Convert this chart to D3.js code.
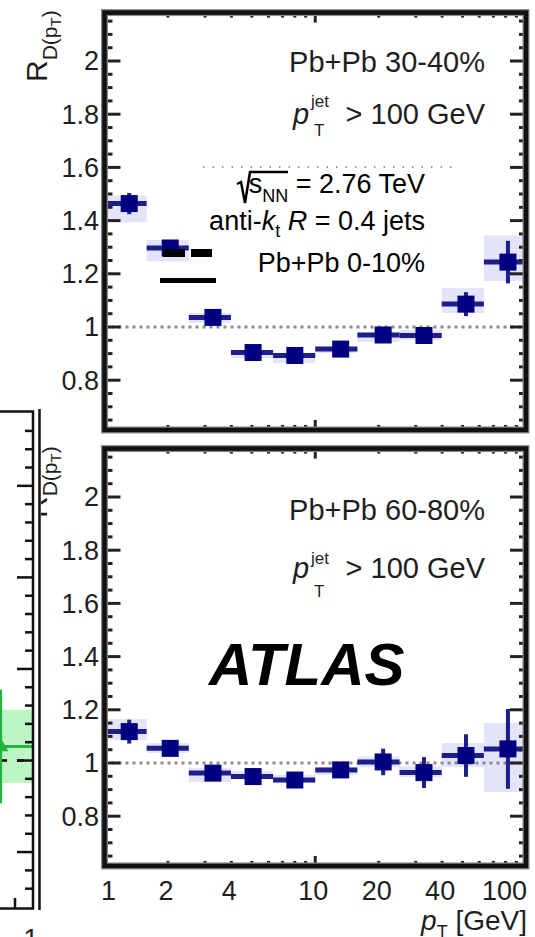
<!DOCTYPE html>
<html>
<head>
<meta charset="utf-8">
<script src="https://cdn.jsdelivr.net/npm/d3@7"></script>
<style>
  html, body { margin: 0; padding: 0; background: #fff; }
  svg { display: block; }
  text { font-family: "Liberation Sans", Arial, Helvetica, sans-serif; fill: #1e1e1e; white-space: pre; }
</style>
</head>
<body>
<div id="chart"></div>
<script>
// track pT bins [GeV] and mean pT of each bin
let binLo = [1, 1.585, 2.512, 3.981, 6.31, 10, 15.85, 25.12, 39.81, 63.1]
let binHi = [1.585, 2.512, 3.981, 6.31, 10, 15.85, 25.12, 39.81, 63.1, 100]
let ptMean = [1.31, 2.05, 3.27, 5.07, 8.0, 13.2, 21.0, 32.8, 51.9, 82.1]

// Pb+Pb 30-40%
let r3040 = [1.464, 1.297, 1.036, 0.904, 0.893, 0.917, 0.970, 0.968, 1.086, 1.244]
let stat3040 = [0.04, 0.02, 0.012, 0.01, 0.01, 0.01, 0.01, 0.01, 0.045, 0.08]
let sysUp3040 = [0.03, 0.03, 0.017, 0.01, 0.01, 0.008, 0.01, 0.021, 0.061, 0.10]
let sysDn3040 = [0.07, 0.05, 0.021, 0.021, 0.028, 0.015, 0.026, 0.017, 0.033, 0.071]

// Pb+Pb 60-80%
let r6080 = [1.118, 1.055, 0.962, 0.949, 0.936, 0.974, 1.004, 0.964, 1.028, 1.053]
let stat6080 = [0.045, 0.02, 0.02, 0.015, 0.015, 0.02, 0.05, 0.058, 0.08, 0.15]
let sysUp6080 = [0.047, 0.02, 0.019, 0.02, 0.02, 0.011, 0.02, 0.025, 0.047, 0.097]
let sysDn6080 = [0.032, 0.017, 0.033, 0.01, 0.011, 0.019, 0.02, 0.017, 0.043, 0.162]

// neighbouring (0-10%) panel, only its last point shows
let ptLeft = [85], binLoLeft = [50], binHiLeft = [130]
let rLeft = [1.077], statLeft = [0.31], sysLeft = [0.2]

// axis ticks
let yLabels = [0.8, 1, 1.2, 1.4, 1.6, 1.8, 2]
let yMinor = d3.range(13, 44).map(i => +(i * 0.05).toFixed(2))
let xMajor = [1, 10, 100]
let xMinor = [2, 3, 4, 5, 6, 7, 8, 9, 20, 30, 40, 50, 60, 70, 80, 90]
let xLabels = [1, 2, 4, 10, 20, 40, 100]
let yLeftMajor = [0.5, 1, 1.5, 2, 2.5]
let yLeftMinor = d3.range(3, 29).map(i => +(i * 0.1).toFixed(1))

let svg = d3.select("#chart").append("svg")
  .attr("width", 535)
  .attr("height", 937)

let x = d3.scaleLog().domain([1, 100]).range([104.5, 526])
let yTop = d3.scaleLinear().domain([1, 2]).range([327, 61])
let yBot = d3.scaleLinear().domain([1, 2]).range([763, 497])
let frameLo = 0.613, frameHi = 2.182

let navy = "#000080", navyLine = "#1e1e8a", sysFill = "#e3e3fa"

function drawPanel(y, vals, stat, sUp, sDn) {
  let g = svg.append("g")
  let pts = vals.map((v, i) => ({ v: v, s: stat[i], up: sUp[i], dn: sDn[i], lo: binLo[i], hi: binHi[i], pt: ptMean[i] }))

  // systematic boxes
  g.selectAll("rect.sys").data(pts).enter().append("rect")
    .attr("x", d => x(d.lo))
    .attr("width", d => x(d.hi) - x(d.lo))
    .attr("y", d => y(d.v + d.up))
    .attr("height", d => y(d.v - d.dn) - y(d.v + d.up))
    .style("fill", sysFill)

  // dotted line at unity
  g.append("line")
    .attr("x1", x(1)).attr("x2", x(100))
    .attr("y1", y(1)).attr("y2", y(1))
    .style("stroke", "#8c8c8c").style("stroke-width", 3)
    .style("stroke-dasharray", "3,4")

  g.selectAll("line.hbar").data(pts).enter().append("line")
    .attr("x1", d => x(d.lo)).attr("x2", d => x(d.hi))
    .attr("y1", d => y(d.v)).attr("y2", d => y(d.v))
    .style("stroke", navyLine).style("stroke-width", 5)

  g.selectAll("line.vbar").data(pts).enter().append("line")
    .attr("x1", d => x(d.pt)).attr("x2", d => x(d.pt))
    .attr("y1", d => y(d.v - d.s)).attr("y2", d => y(d.v + d.s))
    .style("stroke", navyLine).style("stroke-width", 4)

  g.selectAll("rect.mk").data(pts).enter().append("rect")
    .attr("x", d => x(d.pt) - 8.5)
    .attr("y", d => y(d.v) - 8.5)
    .attr("width", 17).attr("height", 17)
    .style("fill", navy)

  // ticks on all four sides, pointing inward
  let xl = x(1), xr = x(100), yt = y(frameHi), yb = y(frameLo)
  let ticks = []
  yLabels.forEach(v => { ticks.push([xl, y(v), xl + 16, y(v)]); ticks.push([xr, y(v), xr - 16, y(v)]) })
  yMinor.filter(v => !yLabels.includes(v)).forEach(v => {
    ticks.push([xl, y(v), xl + 8, y(v)]); ticks.push([xr, y(v), xr - 7, y(v)])
  })
  xMajor.forEach(v => { ticks.push([x(v), yb, x(v), yb - 10]); ticks.push([x(v), yt, x(v), yt + 10]) })
  xMinor.forEach(v => { ticks.push([x(v), yb, x(v), yb - 5]); ticks.push([x(v), yt, x(v), yt + 5]) })

  g.selectAll("line.tick").data(ticks).enter().append("line")
    .attr("x1", d => d[0]).attr("y1", d => d[1])
    .attr("x2", d => d[2]).attr("y2", d => d[3])
    .style("stroke", "#222").style("stroke-width", 3)

  // frame
  g.append("rect")
    .attr("x", xl).attr("y", yt).attr("width", xr - xl).attr("height", yb - yt)
    .style("fill", "none").style("stroke", "#888").style("stroke-width", 7)
  g.append("rect")
    .attr("x", xl).attr("y", yt).attr("width", xr - xl).attr("height", yb - yt)
    .style("fill", "none").style("stroke", "#111").style("stroke-width", 4.5)

  // y tick labels
  g.selectAll("text.yl").data(yLabels).enter().append("text")
    .attr("x", 99).attr("y", d => y(d)).attr("dy", "0.35em")
    .attr("text-anchor", "end")
    .style("font-size", "27px")
    .text(d => d)

  // y title R_D(pT)
  let t = g.append("text")
    .attr("transform", "translate(47," + (y(2) + 21) + ") rotate(-90)")
    .style("font-size", "30px")
  t.append("tspan").text("R")
  t.append("tspan").text("D(p").style("font-size", "21px").attr("dy", 10)
  t.append("tspan").text("T").style("font-size", "15px").attr("dy", 4)
  t.append("tspan").text(")").style("font-size", "21px").attr("dy", -4)
  return g
}

// "Pb+Pb xx%" and "pT^jet > 100 GeV" labels
function jetLabels(cent, base1, base2, supY, subY) {
  svg.append("text").attr("x", 485).attr("y", base1).attr("text-anchor", "end")
    .style("font-size", "29px").text(cent)
  svg.append("text").attr("x", 293).attr("y", base2)
    .style("font-size", "29px").style("font-style", "italic").text("p")
  svg.append("text").attr("x", 311).attr("y", supY)
    .style("font-size", "17px").text("jet")
  svg.append("text").attr("x", 314).attr("y", subY)
    .style("font-size", "17px").text("T")
  svg.append("text").attr("x", 485).attr("y", base2).attr("text-anchor", "end")
    .style("font-size", "29px").text("> 100 GeV")
}

drawPanel(yTop, r3040, stat3040, sysUp3040, sysDn3040)
drawPanel(yBot, r6080, stat6080, sysUp6080, sysDn6080)

jetLabels("Pb+Pb 30-40%", 72, 124, 107, 136)
jetLabels("Pb+Pb 60-80%", 520, 578, 564, 597)

// x axis labels and title (bottom panel only)
svg.selectAll("text.xl").data(xLabels).enter().append("text")
  .attr("x", d => d == 100 ? 527 : (d == 1 ? x(d) + 4 : x(d) - 2))
  .attr("y", 900)
  .attr("text-anchor", d => d == 100 ? "end" : "middle")
  .style("font-size", "27px")
  .text(d => d)

let xt = svg.append("text").attr("x", 527).attr("y", 930).attr("text-anchor", "end")
  .style("font-size", "28px")
xt.append("tspan").text("p").style("font-style", "italic")
xt.append("tspan").text("T").style("font-size", "18px").attr("dy", 8)
xt.append("tspan").text(" [GeV]").attr("dy", -8)

// ATLAS label
svg.append("text").attr("x", 209).attr("y", 685)
  .style("font-size", "60px").style("font-weight", "bold").style("font-style", "italic")
  .style("fill", "#000")
  .text("ATLAS")

// legend of the neighbouring panel that spills over this one
let ov = svg.append("g")
ov.append("line").attr("x1", 203).attr("x2", 453).attr("y1", 167).attr("y2", 167)
  .style("stroke", "#777").style("stroke-width", 1.5).style("stroke-dasharray", "1.5,8")
ov.append("path").attr("d", "M237,184 L241,182 L245,203 L250,172 L288,172")
  .style("fill", "none").style("stroke", "#000").style("stroke-width", 2.5)
let s1 = ov.append("text").attr("x", 425).attr("y", 193).attr("text-anchor", "end")
  .style("font-size", "27px").style("fill", "#000")
s1.append("tspan").text("s")
s1.append("tspan").text("NN").style("font-size", "18px").attr("dy", 9)
s1.append("tspan").text(" = 2.76 TeV").attr("dy", -9)
let s2 = ov.append("text").attr("x", 425).attr("y", 230).attr("text-anchor", "end")
  .style("font-size", "27px").style("fill", "#000")
s2.append("tspan").text("anti-")
s2.append("tspan").text("k").style("font-style", "italic")
s2.append("tspan").text("t").style("font-size", "18px").attr("dy", 7)
s2.append("tspan").text(" ").attr("dy", -7)
s2.append("tspan").text("R").style("font-style", "italic")
s2.append("tspan").text(" = 0.4 jets")
ov.append("text").attr("x", 425).attr("y", 272).attr("text-anchor", "end")
  .style("font-size", "27px").style("fill", "#000").text("Pb+Pb 0-10%")
ov.append("line").attr("x1", 163).attr("x2", 212).attr("y1", 253).attr("y2", 253)
  .style("stroke", "#000").style("stroke-width", 8).style("stroke-dasharray", "22,6")
ov.append("line").attr("x1", 160).attr("x2", 216).attr("y1", 280.5).attr("y2", 280.5)
  .style("stroke", "#000").style("stroke-width", 5)

// neighbouring panel on the left edge
let xLeft = d3.scaleLog().domain([1, 100]).range([15 - 2 * 210.75, 15])
let yLeft = d3.scaleLinear().domain([0.2, 2.9]).range([907, 412.6])
let lp = svg.append("g")
lp.append("rect").attr("x", 0).attr("y", 409).attr("width", 41).attr("height", 503).style("fill", "#fff")
svg.append("clipPath").attr("id", "clipL").append("rect")
  .attr("x", 0).attr("y", 411.5).attr("width", 33).attr("height", 497)
let lc = lp.append("g").attr("clip-path", "url(#clipL)")
let lpts = rLeft.map((v, i) => ({ v: v, s: statLeft[i], sy: sysLeft[i], pt: ptLeft[i], lo: binLoLeft[i], hi: binHiLeft[i] }))
lc.selectAll("rect").data(lpts).enter().append("rect")
  .attr("x", d => xLeft(d.lo)).attr("width", d => xLeft(d.hi) - xLeft(d.lo))
  .attr("y", d => yLeft(d.v + d.sy)).attr("height", d => yLeft(d.v - d.sy) - yLeft(d.v + d.sy))
  .style("fill", "#bdf5c5")
lc.append("line").attr("x1", 0).attr("x2", 33).attr("y1", yLeft(1)).attr("y2", yLeft(1))
  .style("stroke", "#000").style("stroke-width", 2.5).style("stroke-dasharray", "7,10")
lc.selectAll("line.h").data(lpts).enter().append("line")
  .attr("x1", d => xLeft(d.lo)).attr("x2", d => xLeft(d.hi))
  .attr("y1", d => yLeft(d.v)).attr("y2", d => yLeft(d.v))
  .style("stroke", "#22b43e").style("stroke-width", 3)
lc.selectAll("line.v").data(lpts).enter().append("line")
  .attr("x1", d => xLeft(d.pt)).attr("x2", d => xLeft(d.pt))
  .attr("y1", d => yLeft(d.v - d.s)).attr("y2", d => yLeft(d.v + d.s))
  .style("stroke", "#22b43e").style("stroke-width", 4)
lc.selectAll("path").data(lpts).enter().append("path")
  .attr("d", d3.symbol(d3.symbolTriangle, 120))
  .attr("transform", d => "translate(" + xLeft(d.pt) + "," + yLeft(d.v) + ")")
  .style("fill", "#22b43e")

let lt = []
yLeftMajor.forEach(v => lt.push([33, yLeft(v), 17, yLeft(v)]))
yLeftMinor.filter(v => !yLeftMajor.includes(v)).forEach(v => lt.push([33, yLeft(v), 25, yLeft(v)]))
lt.push([xLeft(100), 908.5, xLeft(100), 898])
lp.selectAll("line.t").data(lt).enter().append("line")
  .attr("x1", d => d[0]).attr("y1", d => d[1]).attr("x2", d => d[2]).attr("y2", d => d[3])
  .style("stroke", "#111").style("stroke-width", 2.5)
lp.append("path").attr("d", "M0,411.5 H33 V908.5 H0")
  .style("fill", "none").style("stroke", "#111").style("stroke-width", 2.5)
lp.append("line").attr("x1", 39.5).attr("x2", 39.5).attr("y1", 409).attr("y2", 910)
  .style("stroke", "#111").style("stroke-width", 2.5)
lp.append("text").attr("x", 31).attr("y", 948).attr("text-anchor", "middle")
  .style("font-size", "27px").text("1")
</script>
</body>
</html>
